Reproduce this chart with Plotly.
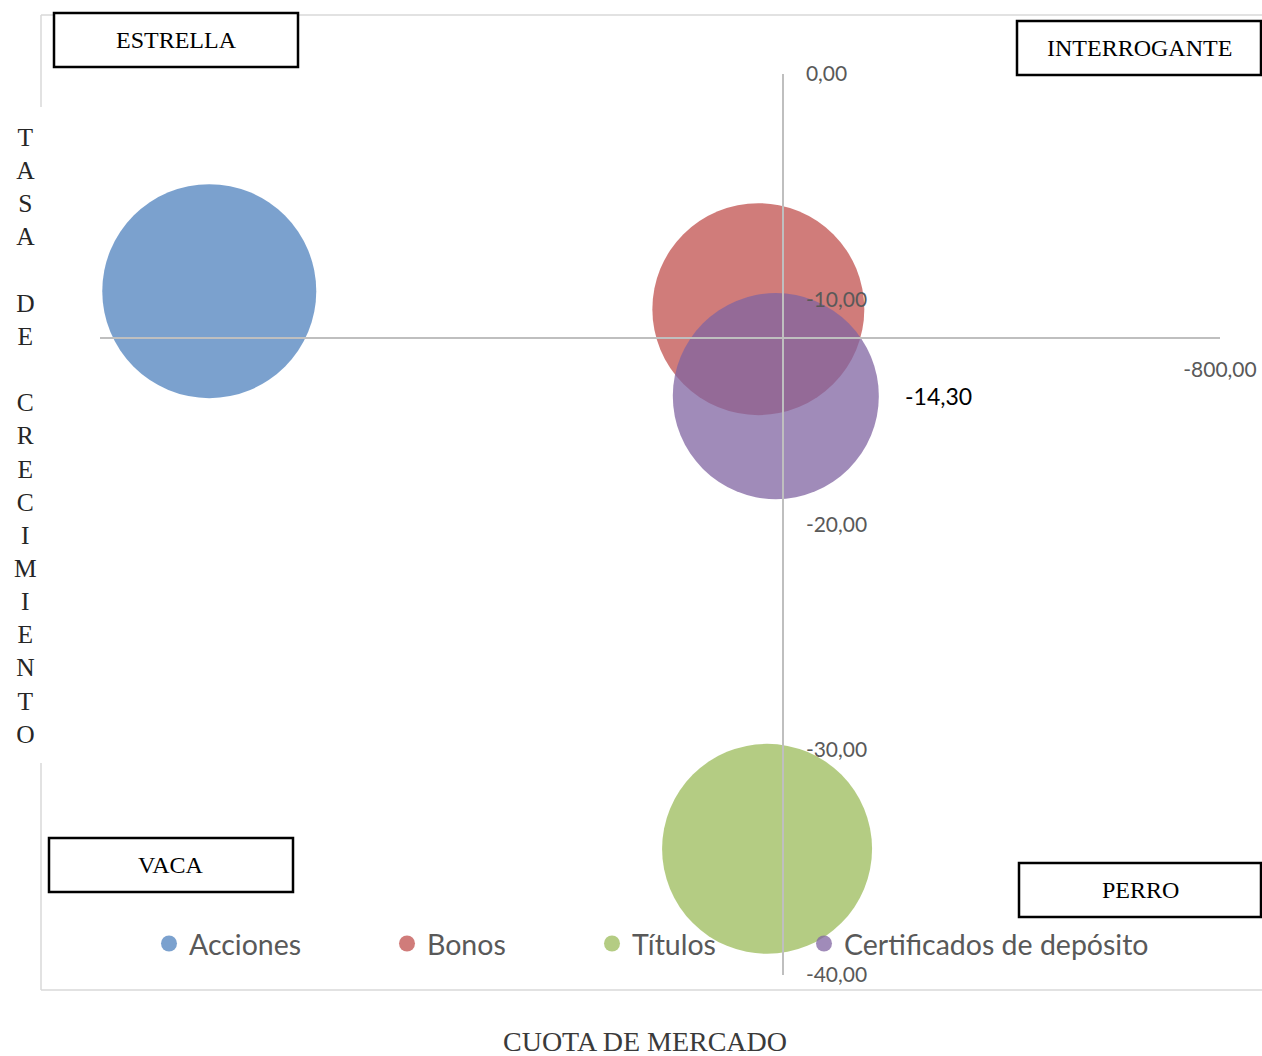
import plotly.graph_objects as go

# ---------------- data ----------------
series = ["Acciones", "Bonos", "Títulos", "Certificados de depósito"]
cuota_mercado = [1050, 45, 29, 13]
tasa_crecimiento = [-9.64, -10.44, -34.40, -14.30]
tamano_burbuja = [100.0, 98.1, 96.3, 92.7]
colores = ["rgba(79,129,189,0.75)", "rgba(192,80,77,0.75)",
           "rgba(155,187,89,0.75)", "rgba(128,100,162,0.75)"]

y_tickvals = [0, -10, -20, -30, -40]
y_ticktext = ["0,00", "-10,00", "-20,00", "-30,00", "-40,00"]
x_tickvals = [-800]
x_ticktext = ["-800,00"]

etiqueta_serie = "Certificados de depósito"
cuadrantes = ["ESTRELLA", "INTERROGANTE", "VACA", "PERRO"]
titulo_y = "TASA DE CRECIMIENTO"
titulo_x = "CUOTA DE MERCADO"

# ---------------- layout geometry ----------------
W, H = 1262, 1056
PL, PR, PT, PB = 100, 1220, 74, 975
X_RANGE = [1250, -800]
Y_RANGE = [-40, 0]
X_CROSS = 0          # vertical axis crosses here
Y_CROSS = -11.72     # horizontal axis crosses here


def px_x(px):
    return (px - PL) / (PR - PL)


def px_y(py):
    return (PB - py) / (PB - PT)


sizeref = 2.0 * max(tamano_burbuja) / (214 ** 2)

fig = go.Figure()
legend_ids = ["legend", "legend2", "legend3", "legend4"]
for i, name in enumerate(series):
    fig.add_trace(go.Scatter(
        x=[cuota_mercado[i]], y=[tasa_crecimiento[i]],
        mode="markers", name=name,
        marker=dict(size=[tamano_burbuja[i]], sizemode="area", sizeref=sizeref,
                    color=colores[i], opacity=1, line=dict(width=0)),
        cliponaxis=False, legend=legend_ids[i], showlegend=True,
    ))

shapes = []
frame_col = "rgb(217,217,217)"
# outer frame
shapes.append(dict(type="line", xref="paper", yref="paper", x0=px_x(41), x1=px_x(1262),
                   y0=px_y(15), y1=px_y(15), line=dict(color=frame_col, width=1.5)))
shapes.append(dict(type="line", xref="paper", yref="paper", x0=px_x(41), x1=px_x(1262),
                   y0=px_y(990), y1=px_y(990), line=dict(color=frame_col, width=1.5)))
shapes.append(dict(type="line", xref="paper", yref="paper", x0=px_x(41), x1=px_x(41),
                   y0=px_y(15), y1=px_y(107), line=dict(color=frame_col, width=1.5)))
shapes.append(dict(type="line", xref="paper", yref="paper", x0=px_x(41), x1=px_x(41),
                   y0=px_y(763), y1=px_y(990), line=dict(color=frame_col, width=1.5)))

# quadrant boxes (px boxes)
boxes = [(54, 13, 298, 67), (1017, 21, 1261, 75), (49, 838, 293, 892), (1019, 863, 1261, 917)]
annotations = []
for (x0, y0, x1, y1), txt in zip(boxes, cuadrantes):
    shapes.append(dict(type="rect", xref="paper", yref="paper", layer="above",
                       x0=px_x(x0), x1=px_x(x1), y0=px_y(y0), y1=px_y(y1),
                       fillcolor="white", line=dict(color="black", width=2.5)))
    annotations.append(dict(xref="paper", yref="paper", x=px_x((x0 + x1) / 2),
                            y=px_y((y0 + y1) / 2), text=txt, showarrow=False,
                            xanchor="center", yanchor="middle",
                            font=dict(family="Liberation Serif", size=24, color="black")))

# data label for Certificados
idx = series.index(etiqueta_serie)
annotations.append(dict(x=cuota_mercado[idx], y=tasa_crecimiento[idx], xref="x", yref="y",
                        text=f"{tasa_crecimiento[idx]:.2f}".replace(".", ","),
                        showarrow=False, xanchor="left", yanchor="middle", xshift=127,
                        font=dict(family="Lato", size=23, color="black")))

# vertical stacked y title
lines = []
for ch in titulo_y:
    lines.append(ch if ch != " " else "\u00a0")
annotations.append(dict(xref="paper", yref="paper", x=px_x(25), y=px_y(436),
                        text="<br>".join(lines), showarrow=False,
                        xanchor="center", yanchor="middle", align="center",
                        font=dict(family="Liberation Serif", size=25.5, color="#262626")))
# x title
annotations.append(dict(xref="paper", yref="paper", x=px_x(645), y=px_y(1041),
                        text=titulo_x, showarrow=False, xanchor="center", yanchor="middle",
                        font=dict(family="Liberation Serif", size=28, color="#3a3a3a")))

legend_font = dict(family="Lato", size=28.5, color="#595959")
legend_centers = [168, 406, 611, 823]
legends = {}
for lid, cx in zip(legend_ids, legend_centers):
    legends[lid] = dict(x=px_x(cx - 19), y=px_y(944), xanchor="left", yanchor="middle",
                        orientation="h", font=legend_font, bgcolor="rgba(0,0,0,0)",
                        borderwidth=0)

y_pos = (X_RANGE[0] - X_CROSS) / (X_RANGE[0] - X_RANGE[1])
x_pos = (Y_CROSS - Y_RANGE[0]) / (Y_RANGE[1] - Y_RANGE[0])

fig.update_layout(
    template="none",
    width=W, height=H,
    margin=dict(l=PL, r=W - PR, t=PT, b=H - PB, autoexpand=False),
    paper_bgcolor="white", plot_bgcolor="white",
    separators=",.",
    showlegend=True,
    xaxis=dict(range=X_RANGE, anchor="free", position=x_pos, showgrid=False, zeroline=False,
               automargin=False,
               showline=True, linecolor="rgb(191,191,191)", linewidth=1.5,
               tickvals=x_tickvals, ticktext=x_ticktext, ticks="", ticklabelstandoff=13,
               tickfont=dict(family="Lato", size=21, color="#595959")),
    yaxis=dict(range=Y_RANGE, anchor="free", position=y_pos, side="right",
               showgrid=False, zeroline=False, automargin=False,
               showline=True, linecolor="rgb(191,191,191)", linewidth=1.5,
               tickvals=y_tickvals, ticktext=y_ticktext, ticks="", ticklabelstandoff=18,
               tickfont=dict(family="Lato", size=21, color="#595959")),
    shapes=shapes, annotations=annotations,
    **legends,
)

fig.write_html("out.html")
